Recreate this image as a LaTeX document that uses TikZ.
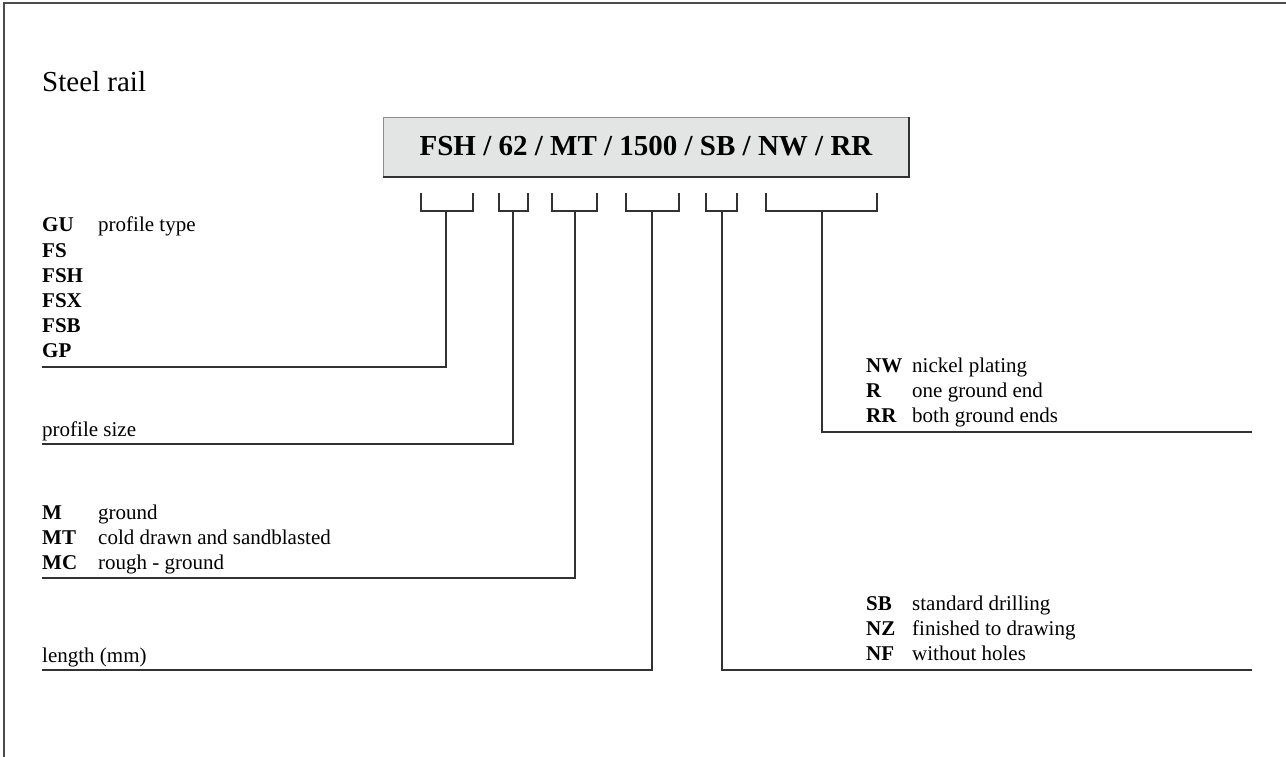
\documentclass[tikz,border=0pt]{standalone}
\usepackage{fontspec}
\setmainfont{Liberation Serif}
\definecolor{boxgray}{RGB}{227,228,228}
\definecolor{lngray}{RGB}{50,50,50}
\begin{document}
\begin{tikzpicture}[x=1pt,y=-1pt,
  ln/.style={draw=lngray, line width=1.3pt},
  lbl/.style={anchor=base west, inner sep=0pt, font=\fontsize{21}{25}\selectfont\bfseries},
  dsc/.style={anchor=base west, inner sep=0pt, font=\fontsize{21}{25}\selectfont},
]
\useasboundingbox (0,0) rectangle (1286,757);
% frame
\draw[line width=1.5pt, black!70] (4,757) -- (4,3) -- (1286,3);
% title
\node[anchor=base west, inner sep=0pt, font=\fontsize{29}{34}\selectfont] (title) at (42,92) {Steel rail};
% code box
\node[fill=boxgray, draw=black!45, line width=0.6pt, minimum width=525pt, minimum height=59pt, inner sep=0pt, anchor=north west] (code) at (383,117) {};
\draw[line width=2pt, lngray] (code.south west) -- (code.south east) -- (code.north east);
\node[anchor=base, inner sep=0pt, font=\fontsize{29}{34}\selectfont\bfseries] (codetxt) at (646,156) {FSH / 62 / MT / 1500 / SB / NW / RR};
% brackets
\foreach \xl/\xr/\xs/\n in {421/473/446/1, 499/528/513/2, 552/597/575/3, 626/679/652/4, 706/737/722/5, 766/877/822/6}{
  \draw[ln] (\xl,193) -- (\xl,211) -- (\xr,211) -- (\xr,193);
  \coordinate (s\n) at (\xs,211);
}
% block 1: profile type
\node[lbl] (gu) at (42,232) {GU};
\node[dsc] (gud) at (98,232) {profile type};
\node[lbl] (fs) at (42,257) {FS};
\node[lbl] (fsh) at (42,282) {FSH};
\node[lbl] (fsx) at (42,307) {FSX};
\node[lbl] (fsb) at (42,332) {FSB};
\node[lbl] (gp) at (42,357) {GP};
\coordinate (e1) at (42,367);
\draw[ln] (s1) |- (e1);
% block 2: profile size
\node[dsc] (psize) at (42,436) {profile size};
\coordinate (e2) at (42,444);
\draw[ln] (s2) |- (e2);
% block 3: finish
\node[lbl] (m) at (42,519) {M};
\node[dsc] (md) at (98,519) {ground};
\node[lbl] (mt) at (42,544) {MT};
\node[dsc] (mtd) at (98,544) {cold drawn and sandblasted};
\node[lbl] (mc) at (42,569) {MC};
\node[dsc] (mcd) at (98,569) {rough - ground};
\coordinate (e3) at (42,578);
\draw[ln] (s3) |- (e3);
% block 4: length
\node[dsc] (len) at (42,662) {length (mm)};
\coordinate (e4) at (42,670);
\draw[ln] (s4) |- (e4);
% block 5: drilling
\node[lbl] (sb) at (866,610) {SB};
\node[dsc] (sbd) at (912,610) {standard drilling};
\node[lbl] (nz) at (866,635) {NZ};
\node[dsc] (nzd) at (912,635) {finished to drawing};
\node[lbl] (nf) at (866,660) {NF};
\node[dsc] (nfd) at (912,660) {without holes};
\coordinate (e5) at (1252,670);
\draw[ln] (s5) |- (e5);
% block 6: ends
\node[lbl] (nw) at (866,372) {NW};
\node[dsc] (nwd) at (912,372) {nickel plating};
\node[lbl] (r) at (866,397) {R};
\node[dsc] (rd) at (912,397) {one ground end};
\node[lbl] (rr) at (866,422) {RR};
\node[dsc] (rrd) at (912,422) {both ground ends};
\coordinate (e6) at (1252,432);
\draw[ln] (s6) |- (e6);
\end{tikzpicture}
\end{document}
